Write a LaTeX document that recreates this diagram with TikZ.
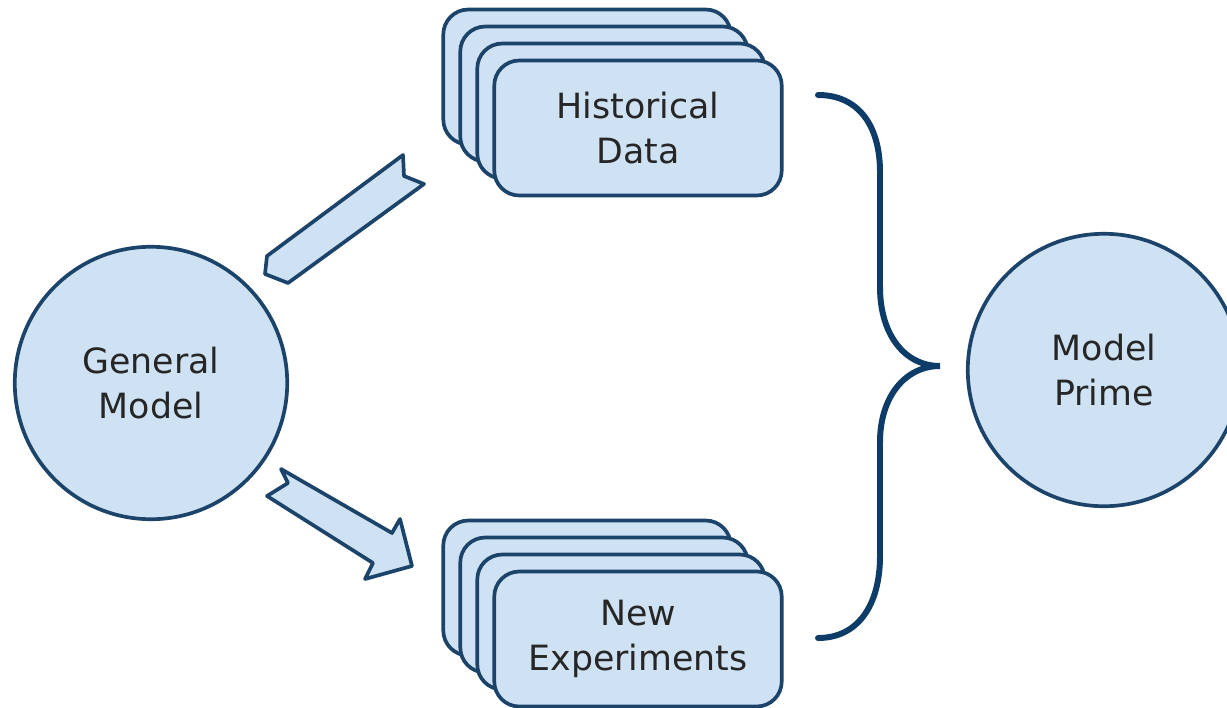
\documentclass[tikz,border=0pt]{standalone}
\usepackage{fontspec}
\setmainfont{DejaVu Sans}
\usetikzlibrary{positioning}

\definecolor{boxfill}{RGB}{207,226,243}
\definecolor{boxline}{RGB}{28,68,106}
\definecolor{bracecol}{RGB}{14,60,105}

\begin{document}
\begin{tikzpicture}[
    x=0.02cm, y=-0.02cm,
    model/.style={circle, minimum size=5.45cm, inner sep=0pt, draw=boxline, fill=boxfill, line width=2.1pt, text=black!85, align=center, font=\fontsize{19.8}{25.6}\selectfont},
    stack/.style={rectangle, rounded corners=0.5cm, minimum width=5.75cm, minimum height=2.7cm, draw=boxline, fill=boxfill, line width=2.1pt, text=black!85, align=center, font=\fontsize{19.8}{25.6}\selectfont},
    blockarrow/.style={draw=boxline, fill=boxfill, line width=2.1pt, line join=round},
    brace/.style={draw=bracecol, line width=3.4pt, line cap=round}
]
\path[use as bounding box] (0,0) rectangle (1227,707);
\clip (0,0) rectangle (1227,707);

% === MODELS ===
\node (general) [model] at (151,383) {General\\Model};
\node (prime) [model] at (1104,370) {Model\\Prime};

% === HISTORICAL DATA (stack of sheets) ===
\foreach \k in {0,1,2}
    \node (hist\k) [stack] at ({587+17*\k},{77+17*\k}) {};
\node (hist) [stack] at (638,128) {Historical\\Data};

% === NEW EXPERIMENTS (stack of sheets) ===
\foreach \k in {0,1,2}
    \node (exp\k) [stack] at ({587+17*\k},{588+17*\k}) {};
\node (exp) [stack] at (638,639) {New\\Experiments};

% === BLOCK ARROWS ===
\draw [blockarrow] (403,155) -- (404,176) -- (424,184) -- (288,283) -- (265,274) -- (267,256) -- cycle;
\draw [blockarrow] (281,469) -- (392,533) -- (400,519) -- (412,566) -- (365,579) -- (373,563) -- (267,496) -- (288,483) -- cycle;

% === BRACE ===
\draw [brace] (818,95) .. controls (858,95) and (880,125) .. (880,172) -- (880,287)
    .. controls (880,335) and (905,366) .. (940,366)
    .. controls (905,366) and (880,397) .. (880,442) -- (880,556)
    .. controls (880,605) and (858,638) .. (818,638);

\end{tikzpicture}
\end{document}
